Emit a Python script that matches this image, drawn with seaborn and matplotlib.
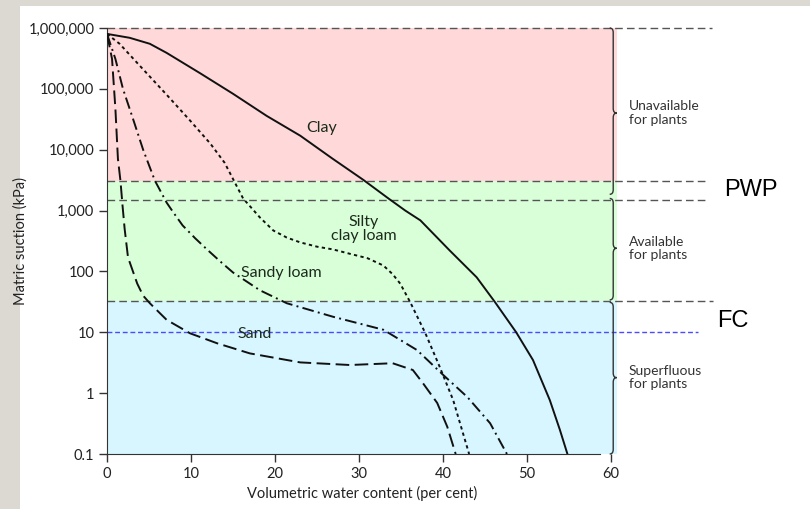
import numpy as np
import pandas as pd
import matplotlib
matplotlib.use("Agg")
import matplotlib.pyplot as plt
from matplotlib.path import Path
from matplotlib.patches import PathPatch, Rectangle
from matplotlib.ticker import FixedLocator, NullLocator
import seaborn as sns

# ---------------- data ----------------
clay_x = [0, 2.7, 5.1, 7.1, 11.1, 15.0, 19.0, 23.0, 26.8, 30.5, 33.5, 35.5, 37.3,
          40.8, 44.0, 46.2, 48.7, 50.7, 52.7, 53.9, 54.8]
clay_y = [8e5, 6.9e5, 5.5e5, 3.9e5, 1.8e5, 8.3e4, 3.6e4, 1.7e4, 7.2e3, 3200, 1580,
          1000, 690, 220, 80, 31, 10, 3.5, 0.77, 0.25, 0.1]

scl_x = [0, 1.5, 3.9, 7.1, 9.9, 12.3, 14.0, 15.0, 16.2, 18.2, 19.8, 21.4, 23.0, 25.0,
         26.9, 28.9, 31.0, 32.9, 34.0, 34.9, 36.1, 37.9, 39.6, 41.2, 43.1]
scl_y = [8e5, 5.5e5, 2.4e5, 8.0e4, 3.0e4, 1.26e4, 6.1e3, 3300, 1580, 770, 470, 360,
         300, 255, 230, 195, 165, 125, 90, 63, 31, 9.6, 2.7, 0.77, 0.1]

sl_x = [0, 1.0, 1.9, 3.1, 4.3, 5.7, 7.1, 7.9, 9.0, 10.5, 11.9, 13.5, 15.0, 18.2,
        21.4, 26.9, 32.9, 36.9, 40.0, 42.9, 45.6, 47.6]
sl_y = [8e5, 3.1e5, 1.0e5, 3.2e4, 1.0e4, 3100, 1350, 930, 570, 350, 230, 145, 96, 49,
        30, 18, 11, 5.1, 2.0, 0.86, 0.32, 0.1]

sand_x = [0, 0.6, 1.0, 1.3, 1.6, 1.85, 2.1, 2.5, 3.6, 4.3, 5.1, 7.1, 9.9, 13.1, 17.0,
          23.0, 28.9, 31.5, 34.0, 36.4, 37.6, 39.3, 40.5, 41.5]
sand_y = [8e5, 3.1e5, 4.7e4, 7.1e3, 3.1e3, 1.2e3, 500, 170, 63, 40, 30, 16, 9.6, 6.6,
          4.5, 3.2, 2.9, 3.0, 3.1, 2.4, 1.46, 0.69, 0.28, 0.1]

y_ticks = [0.1, 1, 10, 100, 1000, 10000, 100000, 1000000]
y_tick_labels = ["0.1", "1", "10", "100", "1,000", "10,000", "100,000", "1,000,000"]
x_ticks = [0, 10, 20, 30, 40, 50, 60]

band_edges = [1e6, 3100, 33, 0.1]          # unavailable / available / superfluous
band_colors = ["#ffd9d9", "#d9ffd9", "#d7f6ff"]
pwp_levels = [3100, 1500]
fc_level = 33
blue_level = 10

brace_specs = [  # (top, bottom, tip, label)
    (1e6, 1850, 4.0e4, "Unavailable\nfor plants"),
    (1580, 34, 240, "Available\nfor plants"),
    (31, 0.1, 1.8, "Superfluous\nfor plants"),
]

curve_labels = [("Clay", 25.6, 2.3e4), ("Silty\nclay loam", 30.6, 500),
                ("Sandy loam", 20.8, 93), ("Sand", 17.6, 9.3)]

# ---------------- figure ----------------
sns.set_style("ticks")
plt.rcParams["font.family"] = ["Lato", "DejaVu Sans"]

W, H = 810, 509
fig = plt.figure(figsize=(W / 100, H / 100), dpi=100, facecolor="#dcd9d3")
fig.patches.append(Rectangle((20 / W, 0), 1 - 20 / W, (H - 6) / H,
                             transform=fig.transFigure, facecolor="white",
                             edgecolor="none", zorder=-10))

x0, x1 = 107, 617
ytop, ybot = 28, 454
ax = fig.add_axes([x0 / W, (H - ybot) / H, (x1 - x0) / W, (ybot - ytop) / H])
ax.set_facecolor("none")
ax.set_yscale("log")
ax.set_xlim(0, 60.7)
ax.set_ylim(0.1, 1e6)

# bands
for top, bot, c in zip(band_edges[:-1], band_edges[1:], band_colors):
    ax.axhspan(bot, top, xmin=0, xmax=1, color=c, lw=0, zorder=0)

# reference lines
gray = "#555555"
ax.axhline(1e6, xmin=0, xmax=(712 - x0) / (x1 - x0), color=gray, lw=1,
           linestyle=(0, (5.5, 3)), clip_on=False, zorder=1)
for lv in pwp_levels:
    ax.axhline(lv, xmin=0, xmax=(708 - x0) / (x1 - x0), color=gray, lw=1,
               linestyle=(0, (5.5, 3)), clip_on=False, zorder=1)
ax.axhline(fc_level, xmin=0, xmax=(713 - x0) / (x1 - x0), color=gray, lw=1,
           linestyle=(0, (5.5, 3)), clip_on=False, zorder=1)
ax.axhline(blue_level, xmin=0, xmax=(698 - x0) / (x1 - x0), color="#4a4aff", lw=1,
           linestyle=(0, (3.5, 2)), clip_on=False, zorder=1)

# curves
ink = "#111111"
sns.lineplot(x=clay_x, y=clay_y, ax=ax, color=ink, lw=1.4, linestyle="-", zorder=3)
sns.lineplot(x=scl_x, y=scl_y, ax=ax, color=ink, lw=1.4,
             linestyle=(0, (1.7, 1.7)), zorder=3)
sns.lineplot(x=sl_x, y=sl_y, ax=ax, color=ink, lw=1.4,
             linestyle=(0, (6.0, 2.2, 1.0, 2.2)), zorder=3)
sns.lineplot(x=sand_x, y=sand_y, ax=ax, color=ink, lw=1.4,
             linestyle=(0, (7.0, 2.8)), zorder=3)

# curve labels
for txt, lx, ly in curve_labels:
    ax.text(lx, ly, txt, ha="center", va="center", fontsize=11.5,
            color="#1c2a1c", linespacing=1.05, zorder=4)

# braces
def brace(top, bot, tip, xv=60.25, w=0.42, r=0.075):
    lt, lb, lm = np.log10(top), np.log10(bot), np.log10(tip)
    pts = [(xv - w, lt), (xv, lt), (xv, lt - r), (xv, lm + r),
           (xv, lm), (xv + w, lm), (xv, lm), (xv, lm - r),
           (xv, lb + r), (xv, lb), (xv - w, lb)]
    codes = [Path.MOVETO, Path.CURVE3, Path.CURVE3, Path.LINETO,
             Path.CURVE3, Path.CURVE3, Path.CURVE3, Path.CURVE3,
             Path.LINETO, Path.CURVE3, Path.CURVE3]
    verts = [(px, 10 ** py) for px, py in pts]
    ax.add_patch(PathPatch(Path(verts, codes), fill=False, edgecolor="#333333",
                           lw=1.0, clip_on=False, transform=ax.transData, zorder=4))

for top, bot, tip, lab in brace_specs:
    brace(top, bot, tip)
    ax.text(62.1, tip, lab, ha="left", va="center", fontsize=10, color="#333333",
            linespacing=1.15, clip_on=False)

# PWP / FC labels
ax.text(73.5, 2200, "PWP", fontsize=17, family="Liberation Sans", color="black",
        ha="left", va="center", clip_on=False)
ax.text(72.6, 15.5, "FC", fontsize=17, family="Liberation Sans", color="black",
        ha="left", va="center", clip_on=False)

# axes styling
ax.yaxis.set_major_locator(FixedLocator(y_ticks))
ax.yaxis.set_minor_locator(NullLocator())
ax.set_yticklabels(y_tick_labels)
ax.set_xticks(x_ticks)
ax.tick_params(axis="both", direction="out", length=6, width=1, color="#333333",
               labelsize=10.5, labelcolor="#222222", pad=3)
for s in ["top", "right"]:
    ax.spines[s].set_visible(False)
ax.spines["left"].set_color("#333333")
ax.spines["bottom"].set_color("#333333")
ax.spines["bottom"].set_bounds(0, 58.7)

ax.set_xlabel("Volumetric water content (per cent)", fontsize=10.5, color="#222222")
ax.set_ylabel("Matric suction (kPa)", fontsize=10.5, color="#222222")
ax.xaxis.set_label_coords(0.5, -0.075)
ax.yaxis.set_label_coords(-0.155, 0.5)

fig.savefig("out.png", dpi=100, facecolor=fig.get_facecolor())
